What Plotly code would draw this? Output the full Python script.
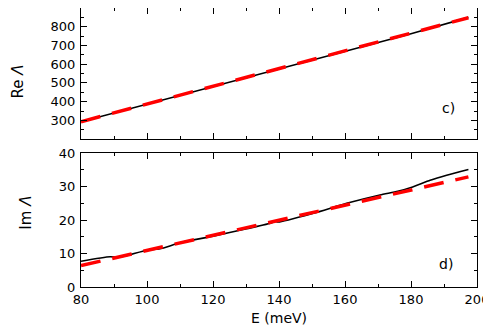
import plotly.graph_objects as go

# Re Lambda (panel c) - black solid and red dashed almost coincide
e_re = [80, 100, 120, 140, 160, 180, 197.4]
re_black = [293, 387, 481, 575, 669, 763, 850]
re_red = [293, 387, 481, 575, 669, 763, 848]

# Im Lambda (panel d)
e_im = [80, 88.8, 91.8, 99.9, 103.9, 110, 120, 130.2, 137.8, 138.4, 139.8,
        150.4, 160.5, 170.6, 176.0, 180.5, 185.8, 190.8, 197.4]
im_black = [7.7, 9.05, 8.9, 11.0, 11.4, 13.2, 15.2, 17.4, 19.2, 19.7, 19.4,
            22.0, 25.0, 27.5, 28.6, 29.9, 31.9, 33.4, 35.1]
e_im_red = [80, 197.4]
im_red = [6.4, 32.9]

font = "DejaVu Sans, Verdana, sans-serif"

fig = go.Figure()
fig.add_trace(go.Scatter(x=e_re, y=re_black, mode="lines", line=dict(color="black", width=1.6),
                         xaxis="x", yaxis="y"))
fig.add_trace(go.Scatter(x=e_re, y=re_red, mode="lines",
                         line=dict(color="#ff0000", width=3.5, dash="20px,12px"),
                         xaxis="x", yaxis="y"))
fig.add_trace(go.Scatter(x=e_im, y=im_black, mode="lines",
                         line=dict(color="black", width=1.6, shape="spline", smoothing=0.6),
                         xaxis="x2", yaxis="y2"))
fig.add_trace(go.Scatter(x=e_im_red, y=im_red, mode="lines",
                         line=dict(color="#ff0000", width=3.5, dash="20px,12px"),
                         xaxis="x2", yaxis="y2"))

ax = dict(showline=True, linecolor="black", linewidth=1.2, mirror="allticks",
          ticks="inside", ticklen=6, tickcolor="black", showgrid=False, zeroline=False,
          automargin=False, tickfont=dict(family=font, size=13, color="black"))

# page body has an 8px margin, so the figure is drawn 8px smaller and offset
fig.update_layout(
    width=483, height=319,
    margin=dict(l=73, r=14, t=0, b=40),
    paper_bgcolor="white", plot_bgcolor="white",
    showlegend=False,
    font=dict(family=font, color="black"),
    xaxis=dict(ax, domain=[0, 1], range=[80, 200], tickvals=[80, 100, 120, 140, 160, 180, 200],
               showticklabels=False, anchor="y",
               minor=dict(ticks="inside", ticklen=3, tickcolor="black", dtick=10, tick0=0)),
    yaxis=dict(ax, domain=[0.530, 1], range=[200, 900], tickvals=[300, 400, 500, 600, 700, 800],
               anchor="x", ticklabelstandoff=2,
               minor=dict(ticks="inside", ticklen=3, tickcolor="black", dtick=50, tick0=0)),
    xaxis2=dict(ax, domain=[0, 1], range=[80, 200], tickvals=[80, 100, 120, 140, 160, 180, 200],
                anchor="y2",
                minor=dict(ticks="inside", ticklen=3, tickcolor="black", dtick=10, tick0=0)),
    yaxis2=dict(ax, domain=[0, 0.480], range=[0, 40], tickvals=[0, 10, 20, 30, 40],
                anchor="x2", ticklabelstandoff=2,
                minor=dict(ticks="inside", ticklen=3, tickcolor="black", dtick=5, tick0=0)),
    annotations=[
        dict(text="Re <i>Λ</i>", x=-0.160, y=0.735, xref="paper", yref="paper", showarrow=False,
             xanchor="center", yanchor="middle", textangle=-90, font=dict(family=font, size=15)),
        dict(text="Im <i>Λ</i>", x=-0.141, y=0.267, xref="paper", yref="paper", showarrow=False,
             xanchor="center", yanchor="middle", textangle=-90, font=dict(family=font, size=15)),
        dict(text="E (meV)", x=0.5, y=-0.111, xref="paper", yref="paper", showarrow=False,
             xanchor="center", yanchor="middle", font=dict(family=font, size=14)),
        dict(text="c)", x=191.5, y=366, xref="x", yref="y", showarrow=False,
             xanchor="center", yanchor="middle", font=dict(family=font, size=14)),
        dict(text="d)", x=190.5, y=6.9, xref="x2", yref="y2", showarrow=False,
             xanchor="center", yanchor="middle", font=dict(family=font, size=14)),
    ],
)

fig.write_html("out.html")
